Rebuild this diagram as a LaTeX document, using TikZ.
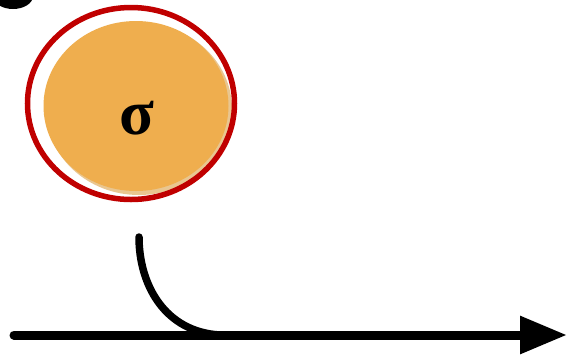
\documentclass[tikz,border=0pt]{standalone}
\usepackage{fontspec}
\newfontfamily\sigfont{Liberation Serif}
\usetikzlibrary{arrows.meta,shapes.geometric}
\definecolor{ringred}{HTML}{C00000}
\definecolor{ballorange}{HTML}{EFAE4E}
\definecolor{ballshadow}{HTML}{E9C690}
\begin{document}
\begin{tikzpicture}[x=1pt,y=-1pt,
  axis/.style={line width=9pt, line cap=round, -{Triangle[length=47pt,width=36pt]}},
  curve/.style={line width=7.5pt, line cap=round},
  ball/.style={ellipse, fill=ballorange, inner sep=0pt},
  sigmatext/.style={inner sep=0pt, font=\sigfont\bfseries\fontsize{64}{64}\selectfont},
  ring/.style={draw=ringred, line width=5.5pt}]
\useasboundingbox (0,0) rectangle (568,360);
\clip (0,0) rectangle (568,360);
\fill[white] (0,0) rectangle (568,360);
\fill[black] (13,-4) ellipse [x radius=20, y radius=13];
\fill[ballshadow] (139,109) ellipse [x radius=93, y radius=86];
\node[ball, minimum width=185pt, minimum height=170pt] (ball) at (136,106) {};
\node[sigmatext] (sigma) at (137,118) {σ};
\draw[ring] (131,103.5) ellipse [x radius=103.5, y radius=96];
\coordinate (start) at (139,237);
\coordinate (left) at (14,335);
\coordinate (tip) at (567,335);
\coordinate (join) at (220,335);
\draw[axis] (left) -- (tip);
\draw[curve] (start) .. controls (139,285) and (165,332) .. (join);
\end{tikzpicture}
\end{document}
